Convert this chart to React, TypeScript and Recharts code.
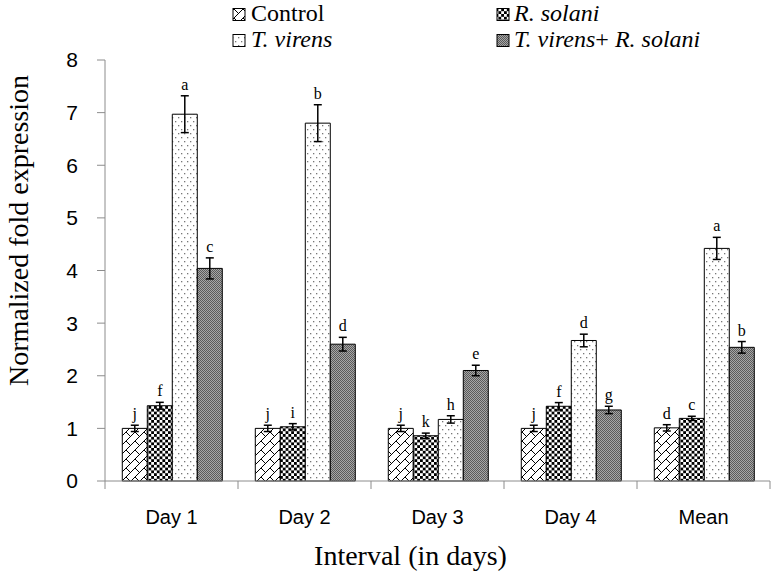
import React from 'react';
import { BarChart, Bar, XAxis, YAxis, ErrorBar, LabelList } from 'recharts';

const categories = ['Day 1', 'Day 2', 'Day 3', 'Day 4', 'Mean'];
const controlValues = [1.0, 1.0, 1.0, 1.0, 1.01];
const solaniValues = [1.43, 1.03, 0.86, 1.42, 1.19];
const virensValues = [6.97, 6.8, 1.17, 2.67, 4.42];
const comboValues = [4.04, 2.6, 2.1, 1.35, 2.54];
const controlErrors = [0.06, 0.06, 0.06, 0.06, 0.06];
const solaniErrors = [0.065, 0.06, 0.05, 0.07, 0.04];
const virensErrors = [0.35, 0.35, 0.07, 0.12, 0.21];
const comboErrors = [0.2, 0.13, 0.1, 0.07, 0.11];
const controlLetters = ['j', 'j', 'j', 'j', 'd'];
const solaniLetters = ['f', 'i', 'k', 'f', 'c'];
const virensLetters = ['a', 'b', 'h', 'd', 'a'];
const comboLetters = ['c', 'd', 'e', 'g', 'b'];
const yTicks = [0, 1, 2, 3, 4, 5, 6, 7, 8];

const data = categories.map((name, i) => ({
  name,
  control: controlValues[i],
  solani: solaniValues[i],
  virens: virensValues[i],
  combo: comboValues[i],
  controlErr: controlErrors[i],
  solaniErr: solaniErrors[i],
  virensErr: virensErrors[i],
  comboErr: comboErrors[i],
  controlLet: controlLetters[i],
  solaniLet: solaniLetters[i],
  virensLet: virensLetters[i],
  comboLet: comboLetters[i],
}));

const SERIF = '"Liberation Serif", "Times New Roman", serif';
const SANS = '"Liberation Sans", Arial, sans-serif';
const AXIS_GRAY = '#8c8c8c';

const Patterns = ({ prefix }: { prefix: string }) => (
  <defs>
    <pattern id={`${prefix}-brick`} patternUnits="userSpaceOnUse" width={9} height={9}>
      <rect width={9} height={9} fill="#fff" />
      <path d="M-1,10 L10,-1 M-1,1 L1,-1 M8,10 L10,8 M0,0 L4.5,4.5" stroke="#000" strokeWidth={1} />
    </pattern>
    <pattern id={`${prefix}-checker`} patternUnits="userSpaceOnUse" width={5.6} height={5.6}>
      <rect width={5.6} height={5.6} fill="#fff" />
      <rect x={0} y={0} width={2.8} height={2.8} fill="#000" />
      <rect x={2.8} y={2.8} width={2.8} height={2.8} fill="#000" />
    </pattern>
    <pattern id={`${prefix}-dots`} patternUnits="userSpaceOnUse" width={6} height={8}>
      <rect width={6} height={8} fill="#fff" />
      <rect x={1} y={1} width={1.3} height={1.3} fill="#777" />
      <rect x={4} y={5} width={1.3} height={1.3} fill="#777" />
    </pattern>
    <pattern id={`${prefix}-gray`} patternUnits="userSpaceOnUse" width={2} height={2}>
      <rect width={2} height={2} fill="#a6a6a6" />
      <rect x={0} y={0} width={1} height={1} fill="#5a5a5a" />
      <rect x={1} y={1} width={1} height={1} fill="#5a5a5a" />
    </pattern>
  </defs>
);

const makeLetter = (values: number[], errors: number[]) => (props: any) => {
  const vb = props.viewBox || props;
  const x = vb.x ?? props.x;
  const y = vb.y ?? props.y;
  const w = vb.width ?? props.width;
  const h = vb.height ?? props.height;
  const i = props.index;
  const v = values[i];
  const errPx = v ? (errors[i] * h) / v : 0;
  return (
    <text x={x + w / 2} y={y - errPx - 6} textAnchor="middle" fontFamily={SERIF} fontSize={16} fill="#000">
      {props.value}
    </text>
  );
};

const XTick = (props: any) => {
  const { x, y, payload, index, width } = props;
  const off = payload && payload.offset ? payload.offset : width / (2 * categories.length);
  return (
    <g>
      <line x1={x - off} x2={x - off} y1={y} y2={y + 8} stroke={AXIS_GRAY} strokeWidth={1} />
      {index === categories.length - 1 && (
        <line x1={x + off} x2={x + off} y1={y} y2={y + 8} stroke={AXIS_GRAY} strokeWidth={1} />
      )}
      <text x={x} y={y + 43} textAnchor="middle" fontFamily={SANS} fontSize={20} fill="#000">
        {payload.value}
      </text>
    </g>
  );
};

const YTitle = (props: any) => {
  const vb = props.viewBox;
  const cx = vb.x + 28;
  const cy = vb.y + vb.height / 2 - 40;
  return (
    <text x={cx} y={cy} transform={`rotate(-90 ${cx} ${cy})`} textAnchor="middle" fontFamily={SERIF} fontSize={28} fill="#000">
      Normalized fold expression
    </text>
  );
};

const XTitle = (props: any) => {
  const vb = props.viewBox;
  const cx = vb.x + vb.width / 2 - 27;
  const cy = vb.y + 84;
  return (
    <text x={cx} y={cy} textAnchor="middle" fontFamily={SERIF} fontSize={28} fill="#000">
      Interval (in days)
    </text>
  );
};

const series = [
  { key: 'control', err: 'controlErr', let: 'controlLet', fill: 'brick', values: controlValues, errors: controlErrors },
  { key: 'solani', err: 'solaniErr', let: 'solaniLet', fill: 'checker', values: solaniValues, errors: solaniErrors },
  { key: 'virens', err: 'virensErr', let: 'virensLet', fill: 'dots', values: virensValues, errors: virensErrors },
  { key: 'combo', err: 'comboErr', let: 'comboLet', fill: 'gray', values: comboValues, errors: comboErrors },
];

const LegendOverlay = () => (
  <svg width={774} height={56} style={{ position: 'absolute', left: 0, top: 0 }}>
    <Patterns prefix="lg" />
    <rect x={233} y={8.5} width={12} height={12} fill="url(#lg-brick)" stroke="#000" strokeWidth={1} />
    <text x={251} y={21} fontFamily={SERIF} fontSize={24} fill="#000">Control</text>
    <rect x={497} y={8.5} width={12} height={12} fill="url(#lg-checker)" stroke="#000" strokeWidth={1} />
    <text x={514} y={21} fontFamily={SERIF} fontSize={24} fontStyle="italic" fill="#000">R. solani</text>
    <rect x={233} y={34.5} width={12} height={12} fill="url(#lg-dots)" stroke="#000" strokeWidth={1} />
    <text x={251} y={47} fontFamily={SERIF} fontSize={24} fontStyle="italic" fill="#000">T. virens</text>
    <rect x={497} y={34.5} width={12} height={12} fill="url(#lg-gray)" stroke="#000" strokeWidth={1} />
    <text x={514} y={47} fontFamily={SERIF} fontSize={24} fill="#000">
      <tspan fontStyle="italic">T. virens</tspan>
      <tspan>+ </tspan>
      <tspan fontStyle="italic">R. solani</tspan>
    </text>
  </svg>
);

export default function App() {
  return (
    <div style={{ position: 'absolute', left: 0, top: 0, width: 774, height: 578, background: '#fff' }}>
      <BarChart
        width={774}
        height={578}
        data={data}
        margin={{ top: 60, right: 4, bottom: 0, left: 0 }}
        barCategoryGap="13%"
        barGap={0}
      >
        <Patterns prefix="ch" />
        <XAxis
          dataKey="name"
          height={97}
          tickSize={0}
          tickMargin={0}
          tickLine={false}
          axisLine={{ stroke: AXIS_GRAY, strokeWidth: 1 }}
          tick={<XTick />}
          interval={0}
          label={{ content: <XTitle /> }}
        />
        <YAxis
          width={105}
          domain={[0, 8]}
          ticks={yTicks}
          interval={0}
          tickSize={8}
          tickMargin={19}
          axisLine={{ stroke: AXIS_GRAY, strokeWidth: 1 }}
          tickLine={{ stroke: AXIS_GRAY, strokeWidth: 1 }}
          tick={{ fontFamily: SANS, fontSize: 21, fill: '#000' }}
          label={{ content: <YTitle /> }}
        />
        {series.map((s) => (
          <Bar
            key={s.key}
            dataKey={s.key}
            fill={`url(#ch-${s.fill})`}
            stroke="#000"
            strokeWidth={1}
            isAnimationActive={false}
          >
            <ErrorBar dataKey={s.err} direction="y" width={4} stroke="#000" strokeWidth={1.5} isAnimationActive={false} />
            <LabelList dataKey={s.let} content={makeLetter(s.values, s.errors)} />
          </Bar>
        ))}
      </BarChart>
      <LegendOverlay />
    </div>
  );
}
